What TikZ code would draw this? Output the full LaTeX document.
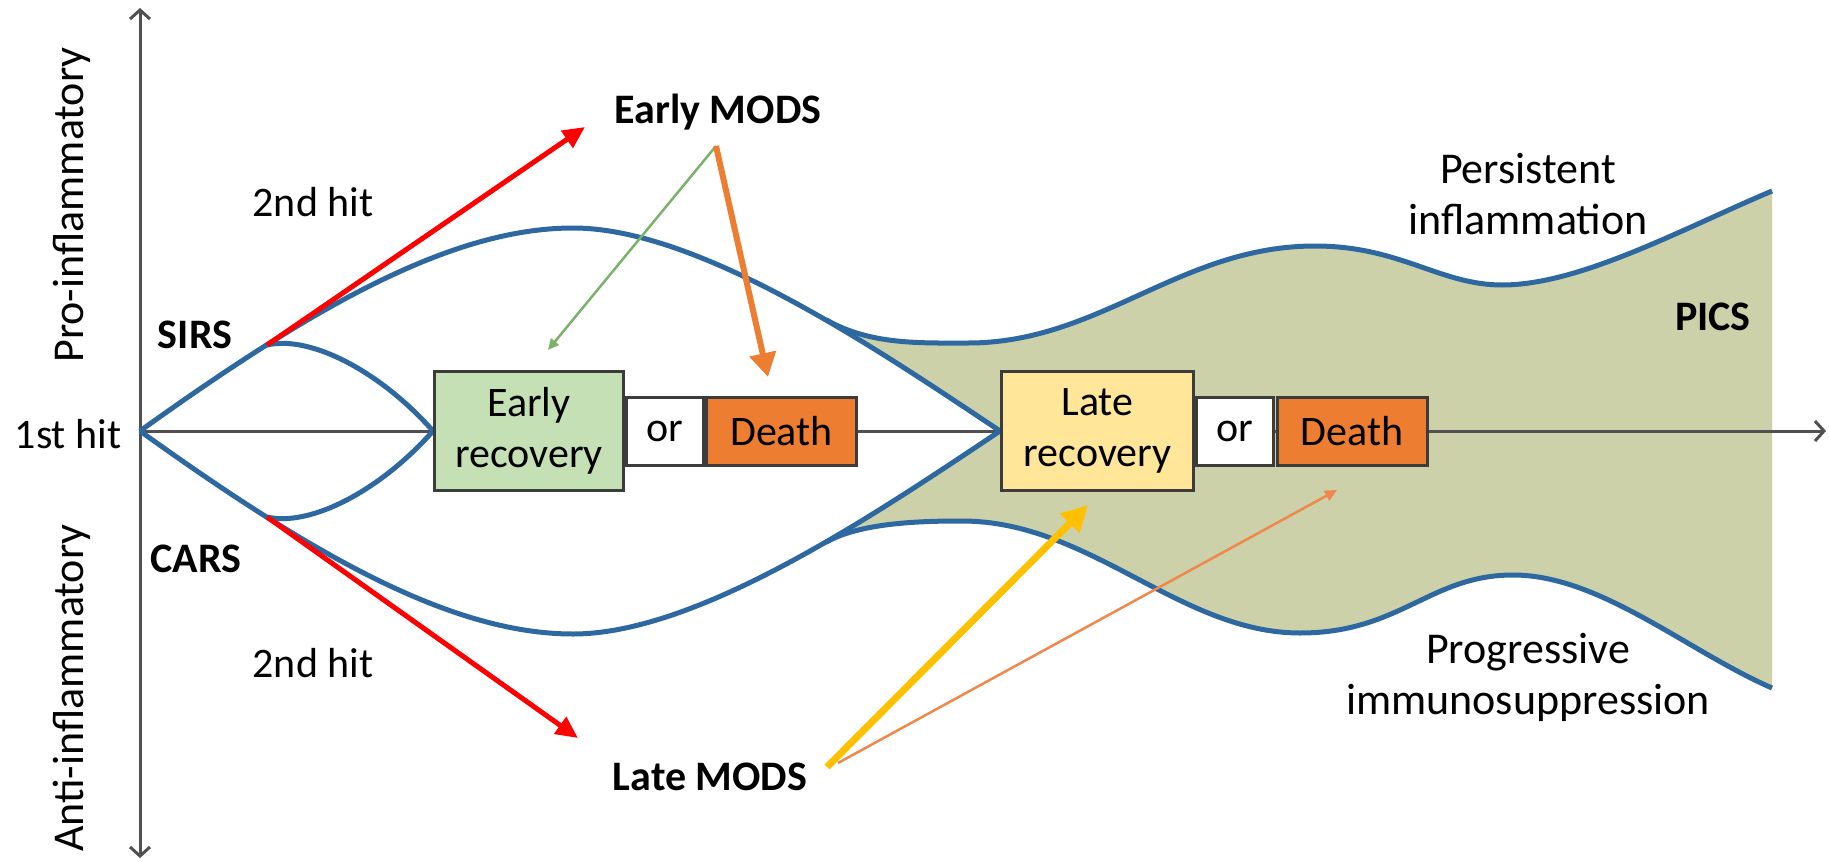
\documentclass[tikz,border=0pt]{standalone}
\usepackage{fontspec}
\setmainfont{Carlito}
\usetikzlibrary{arrows.meta}
\definecolor{flow}{RGB}{46,104,160}
\definecolor{axisgray}{RGB}{80,80,80}
\definecolor{boxline}{RGB}{60,60,60}
\definecolor{picsfill}{RGB}{204,209,170}
\definecolor{earlyfill}{RGB}{197,224,180}
\definecolor{latefill}{RGB}{255,230,153}
\definecolor{deathfill}{RGB}{237,125,49}
\definecolor{hitred}{RGB}{255,0,0}
\definecolor{modsorange}{RGB}{237,125,49}
\definecolor{modsgreen}{RGB}{122,178,106}
\definecolor{modsyellow}{RGB}{255,192,0}
\definecolor{thinorange}{RGB}{240,135,75}
\pgfdeclarelayer{bg}
\pgfdeclarelayer{mid}
\pgfsetlayers{bg,mid,main}
\begin{document}
\begin{tikzpicture}[x=1pt, y=-1pt,
  every node/.style={font=\fontsize{42}{51}\selectfont, inner sep=0pt, text=black},
  stagebox/.style={draw=boxline, line width=3pt, align=center},
  curve/.style={draw=flow, line width=5pt},
  axisline/.style={draw=axisgray, line width=3pt},
  hitarrow/.style={draw=hitred, line width=5pt, -{Triangle[length=22pt,width=20pt]}},
  boldlabel/.style={anchor=base, font=\fontsize{42}{51}\selectfont\bfseries},
  axislabel/.style={rotate=90, font=\fontsize{44}{53}\selectfont},
  sidelabel/.style={align=center, font=\fontsize{44}{51}\selectfont},
]
\useasboundingbox (0,0) rectangle (1829,862);

% stage boxes on the time axis
\node[stagebox, fill=earlyfill, minimum width=189pt, minimum height=119pt] (early) at (529,431) {Early\\recovery};
\node[stagebox, fill=white, minimum width=77pt, minimum height=68pt] (or1) at (665,431) {or};
\node[stagebox, fill=deathfill, minimum width=150pt, minimum height=68pt] (death1) at (781.5,431) {Death};
\node[stagebox, fill=latefill, minimum width=192pt, minimum height=119pt] (late) at (1097.5,431) {Late\\recovery};
\node[stagebox, fill=white, minimum width=77pt, minimum height=68pt] (or2) at (1235,431) {or};
\node[stagebox, fill=deathfill, minimum width=150pt, minimum height=68pt] (death2) at (1352,431) {Death};

% key points
\coordinate (O) at (140,431);
\coordinate (S) at (267,345);
\coordinate (C) at (267,517);
\coordinate (F1) at (826,319.7);
\coordinate (F2) at (826,542.3);
\coordinate (ytop) at (140,8);
\coordinate (ybot) at (140,858);
\coordinate (xend) at (1826,431);

% PICS region
\begin{pgfonlayer}{bg}
\fill[picsfill] (F1) .. controls (870,345) and (920,343) .. (968,343)
  .. controls (1100,343) and (1180,246) .. (1315,246)
  .. controls (1400,246) and (1440,285) .. (1502,285)
  .. controls (1580,285) and (1682,229) .. (1772,191)
  -- (1772,688)
  .. controls (1687,651) and (1600,575) .. (1513,575)
  .. controls (1430,575) and (1400,633) .. (1300,633)
  .. controls (1180,633) and (1090,521) .. (962,521)
  .. controls (925,521) and (861,522) .. (F2)
  .. controls (889.6,505.8) and (951.3,464.6) .. (late.west)
  .. controls (951.3,397.4) and (889.6,356.2) .. (F1) -- cycle;
\end{pgfonlayer}

\begin{pgfonlayer}{mid}
% axes
\draw[axisline, {Straight Barb[length=9pt,width=20pt]}-{Straight Barb[length=9pt,width=20pt]}] (ytop) -- (ybot);
\draw[axisline, -{Straight Barb[length=9pt,width=20pt]}] (O) -- (xend);
% main trajectories
\draw[curve] (O) .. controls (310,309) and (450,228) .. (573,228)
  .. controls (700,228) and (880,351) .. (late.west);
\draw[curve] (O) .. controls (310,553) and (450,634) .. (573,634)
  .. controls (700,634) and (880,511) .. (late.west);
\draw[curve] (S) .. controls (310,335) and (380,371) .. (early.west);
\draw[curve] (C) .. controls (310,527) and (380,491) .. (early.west);
% persistent inflammation / progressive immunosuppression
\draw[curve] (F1) .. controls (870,345) and (920,343) .. (968,343)
  .. controls (1100,343) and (1180,246) .. (1315,246)
  .. controls (1400,246) and (1440,285) .. (1502,285)
  .. controls (1580,285) and (1682,229) .. (1772,191);
\draw[curve] (F2) .. controls (861,522) and (925,521) .. (962,521)
  .. controls (1090,521) and (1180,633) .. (1300,633)
  .. controls (1400,633) and (1430,575) .. (1513,575)
  .. controls (1600,575) and (1687,651) .. (1772,688);
\end{pgfonlayer}

% labels
\node[axislabel] (pro) at (72,205) {Pro-inflammatory};
\node[axislabel] (anti) at (72,688) {Anti-inflammatory};
\node[anchor=base] (hit1) at (68,448) {1st hit};
\node[boldlabel] (sirs) at (195,348) {SIRS};
\node[boldlabel] (cars) at (196,572) {CARS};
\node[anchor=base] (hit2a) at (313,216) {2nd hit};
\node[anchor=base] (hit2b) at (313,677) {2nd hit};
\node[boldlabel] (emods) at (718,123) {Early MODS};
\node[boldlabel] (lmods) at (710,790) {Late MODS};
\node[sidelabel] (persist) at (1528,194) {Persistent\\inflammation};
\node[boldlabel] (pics) at (1713,330) {PICS};
\node[sidelabel] (progr) at (1528,677) {Progressive\\immunosuppression};

% arrow ends
\coordinate (eup) at (585,127);
\coordinate (edown) at (578,738);
\coordinate (efoot) at (716,146);
\coordinate (gtip) at (548,350);
\coordinate (otip) at (768,377);
\coordinate (lfoot) at (827,767);
\coordinate (lfoot2) at (838,763);
\coordinate (ytip) at (1088,505);
\coordinate (dtip) at (1337,490);

% second hits
\draw[hitarrow] (S) -- (eup);
\draw[hitarrow] (C) -- (edown);
% early MODS outcomes
\draw[draw=modsgreen, line width=2.5pt, -{Triangle[length=11pt,width=10pt]}] (efoot) -- (gtip);
\draw[draw=modsorange, line width=6pt, -{Triangle[length=24pt,width=26pt]}] (efoot) -- (otip);
% late MODS outcomes
\draw[draw=modsyellow, line width=7pt, -{Triangle[length=26pt,width=26pt]}] (lfoot) -- (ytip);
\draw[draw=thinorange, line width=2.5pt, -{Triangle[length=12pt,width=11pt]}] (lfoot2) -- (dtip);
\end{tikzpicture}
\end{document}
